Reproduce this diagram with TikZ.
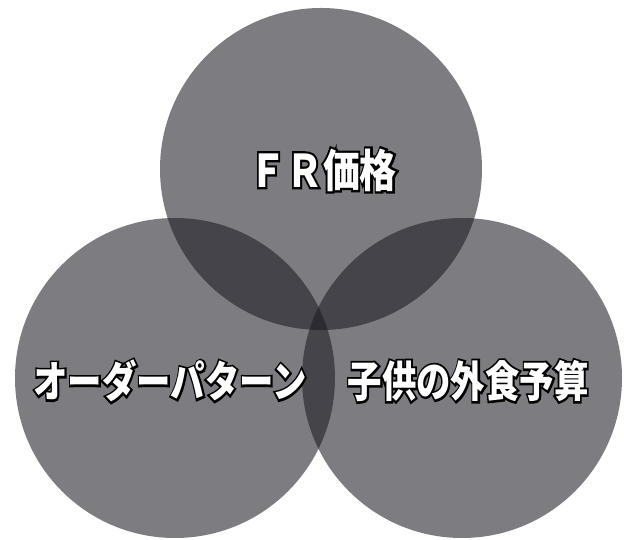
\documentclass[tikz,border=0pt]{standalone}
\usepackage{fontspec}
\newfontfamily\jp{Noto Sans CJK JP}
\newfontfamily\jpedge{Noto Sans CJK JP}[FakeBold=10]
\definecolor{disc}{RGB}{24,24,32}
% white glyphs over a black, widened copy of themselves
\newcommand\outlined[1]{\rlap{\color{black}\jpedge\bfseries #1}#1}
\tikzset{
  venn/.style={fill=disc,fill opacity=0.56,draw=none},
  lbl/.style={text=white,font=\jp\bfseries,inner sep=0pt}
}
\begin{document}
\begin{tikzpicture}[x=1pt,y=1pt]
\useasboundingbox (0,0) rectangle (624,540);
\fill[white] (0,0) rectangle (624,540);
\begin{scope}
\clip (0,0) rectangle (624,540);
\fill[venn] (321,371) circle (161);
\fill[venn] (175,162) circle (160);
\fill[venn] (462,162) circle (160);
\end{scope}
\node[lbl,xscale=0.82] (fr) at (323,370) {\fontsize{45}{50}\selectfont\outlined{ＦＲ価格}};
\node[lbl,xscale=0.8] (order) at (170,159) {\fontsize{43}{48}\selectfont\outlined{オーダーパターン}};
\node[lbl,xscale=0.8] (kids) at (468,159) {\fontsize{43}{48}\selectfont\outlined{子供の外食予算}};
\end{tikzpicture}
\end{document}
